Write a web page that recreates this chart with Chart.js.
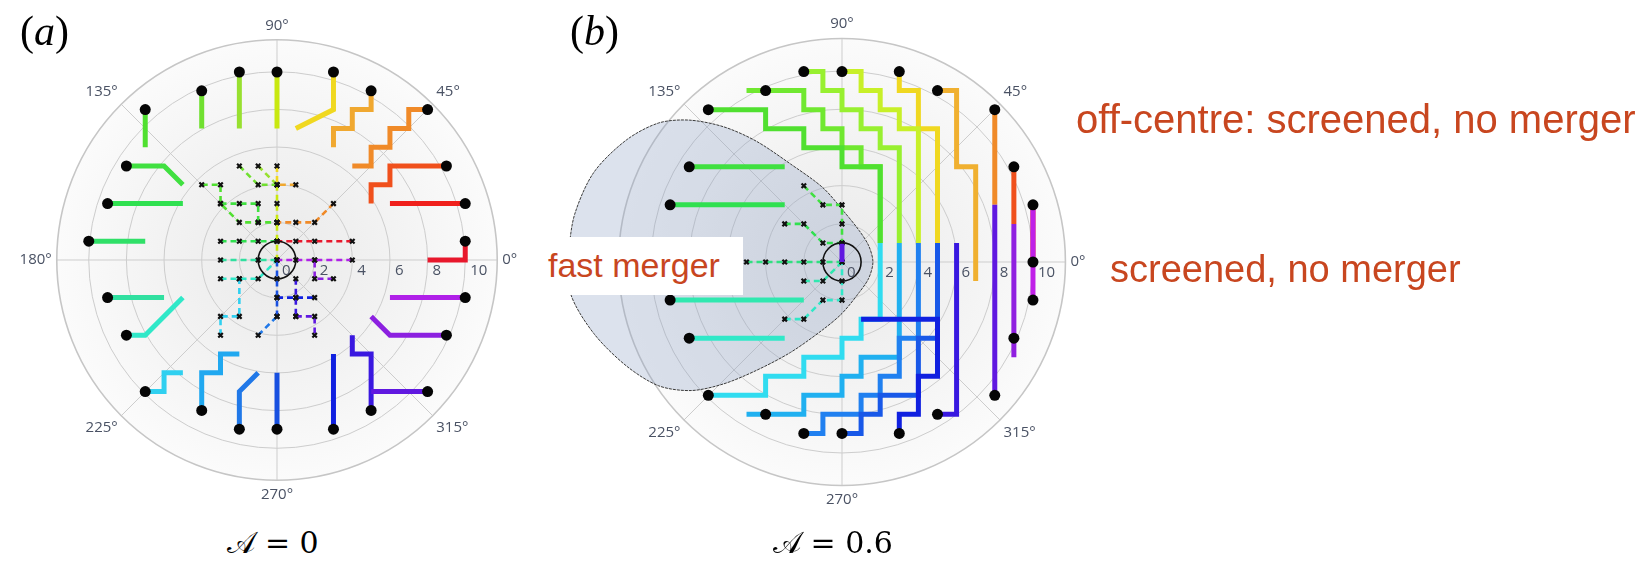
<!DOCTYPE html>
<html>
<head>
<meta charset="utf-8">
<script src="https://cdn.jsdelivr.net/npm/chart.js@4.4.1/dist/chart.umd.min.js"></script>
<style>
  body { margin: 0; background: #fff; width: 1642px; height: 561px; position: relative; overflow: hidden; }
  .pane { position: absolute; }
  .note { position: absolute; font-family: 'Liberation Sans', Arial, sans-serif; color: #c8461f; white-space: nowrap; }
  .tag { position: absolute; font-family: 'Liberation Serif', serif; font-size: 42px; line-height: 42px; }
  .cap { position: absolute; width: 240px; text-align: center; font-family: 'DejaVu Serif', 'Liberation Serif', serif; font-size: 30px; line-height: 30px; }
</style>
</head>
<body>
<div class="pane" style="left:-3px;top:-5px;width:560px;height:530px"><canvas id="chartA" width="560" height="530"></canvas></div>
<div class="pane" style="left:542px;top:-3px;width:600px;height:530px"><canvas id="chartB" width="600" height="530"></canvas></div>

<div class="tag" style="left:20px;top:10px">(<i>a</i>)</div>
<div class="tag" style="left:570px;top:10px">(<i>b</i>)</div>
<div class="cap" style="left:153px;top:528px">𝒜 = 0</div>
<div class="cap" style="left:713px;top:528px">𝒜 = 0.6</div>

<div style="position:absolute;left:540px;top:237px;width:203px;height:58px;background:#fff"></div>
<div class="note" style="left:548px;top:248px;font-size:34px;line-height:34px">fast merger</div>
<div class="note" style="left:1076px;top:99px;font-size:40px;line-height:40px">off-centre: screened, no merger</div>
<div class="note" style="left:1110px;top:250px;font-size:38px;line-height:38px">screened, no merger</div>

<script>
// polar frame
var gridRadii = [2, 4, 6, 8, 10];
var outerRadius = 11.7;
var radialTicks = [0, 2, 4, 6, 8, 10];
var angleTicks = ['0°', '45°', '90°', '135°', '180°', '225°', '270°', '315°'];

// (a) A = 0 : early (solid) and late (dashed) parts of each walk, start = first solid point
var aColours = ['#e8182c', '#f0201c', '#f0501c', '#f08a28', '#f0a830', '#f0d820', '#c8e810', '#98e030',
  '#70e030', '#50e030', '#40e040', '#30e050', '#30e068', '#30e0a0', '#30e8c8', '#30d0f0',
  '#20a8f0', '#2078e8', '#1850e0', '#1020e0', '#3a18e0', '#6018e0', '#8c20e0', '#b020e8'];
var aSolid = [
  [[10, 1], [10, 0], [8, 0]],
  [[10, 3], [6, 3]],
  [[9, 5], [6, 5], [6, 4], [5, 4], [5, 3]],
  [[8, 8], [7, 8], [7, 7], [6, 7], [6, 6], [5, 6], [5, 5], [4, 5]],
  [[5, 9], [5, 8], [4, 8], [4, 7], [3, 7], [3, 6]],
  [[3, 10], [3, 8], [1, 7]],
  [[0, 10], [0, 7]],
  [[-2, 10], [-2, 7]],
  [[-4, 9], [-4, 7]],
  [[-7, 8], [-7, 6]],
  [[-8, 5], [-6, 5], [-5, 4]],
  [[-9, 3], [-5, 3]],
  [[-10, 1], [-7, 1]],
  [[-9, -2], [-6, -2]],
  [[-8, -4], [-7, -4], [-5, -2]],
  [[-7, -7], [-6, -7], [-6, -6], [-5, -6]],
  [[-4, -8], [-4, -6], [-3, -6], [-3, -5], [-2, -5]],
  [[-2, -9], [-2, -7], [-1, -6]],
  [[0, -9], [0, -6]],
  [[3, -9], [3, -5]],
  [[5, -8], [5, -5], [4, -5], [4, -4]],
  [[8, -7], [5, -7]],
  [[9, -4], [6, -4], [5, -3]],
  [[10, -2], [6, -2]]
];
var aDashed = [
  [[4, 1], [2, 1], [1, 1], [0, 1]],
  [],
  [],
  [[3, 3], [2, 2], [1, 2], [0, 2]],
  [[1, 4], [0, 4]],
  [[0, 5], [0, 4]],
  [[0, 4], [0, 3], [0, 2], [0, 1], [0, 0]],
  [[-1, 5], [0, 4]],
  [[-2, 5], [-1, 4], [0, 4]],
  [[-4, 4], [-3, 4], [-3, 3], [-2, 2], [-1, 2], [0, 2]],
  [[-3, 3], [-2, 3], [-1, 3], [-1, 2]],
  [[-3, 1], [-2, 1], [-1, 1], [0, 1]],
  [],
  [[-3, 0], [-1, 0], [0, 0]],
  [[-3, -1], [-2, -1], [-1, -1], [0, 0]],
  [[-3, -4], [-3, -3], [-2, -3], [-2, -1]],
  [],
  [[-1, -4], [0, -3]],
  [[0, -3], [0, -2], [0, -1], [0, 0]],
  [[0, -2], [1, -2], [2, -2]],
  [[1, -1], [1, -2], [1, -3]],
  [[1, -3], [2, -3], [2, -4]],
  [[3, -1], [2, -1], [2, 0]],
  [[4, 0], [2, 0], [1, 0], [0, 0]]
];

// (b) A = 0.6
var bColours = ['#e8182c', '#f0201c', '#f0501c', '#f08a28', '#f0b030', '#f0d820', '#c8f028', '#98f030',
  '#70e830', '#50e030', '#40e040', '#30e050', '#30e080', '#30e8b0', '#30e8c8', '#30dcf0',
  '#20b0f0', '#2080f0', '#1858e8', '#1020e0', '#3818e0', '#6018e0', '#9020e0', '#c020e8'];
var bSolid = [
  [[10, 0], [10, 1]],
  [[10, 3], [10, 1]],
  [[9, 5], [9, 2]],
  [[8, 8], [8, 3]],
  [[5, 9], [6, 9], [6, 5], [7, 5], [7, -1]],
  [[3, 10], [3, 9], [4, 9], [4, 7], [5, 7], [5, 1]],
  [[0, 10], [1, 10], [1, 9], [2, 9], [2, 8], [3, 8], [3, 7], [4, 7], [4, 1]],
  [[-2, 10], [-1, 10], [-1, 9], [0, 9], [0, 8], [1, 8], [1, 7], [2, 7], [2, 6], [3, 6], [3, 1]],
  [[-4, 9], [-5, 9], [-2, 9], [-2, 8], [-1, 8], [-1, 7], [0, 7], [0, 6], [1, 6], [1, 5], [2, 5], [2, 1]],
  [[-7, 8], [-4, 8], [-4, 7], [-2, 7], [-2, 6], [0, 6], [0, 5], [2, 5], [2, 1]],
  [[-8, 5], [-3, 5]],
  [[-9, 3], [-3, 3]],
  [[-10, 0], [-6, 0]],
  [[-9, -2], [-2, -2]],
  [[-8, -4], [-3, -4]],
  [[-7, -7], [-4, -7], [-4, -6], [-2, -6], [-2, -5], [0, -5], [0, -4], [1, -4], [1, -3], [2, -3], [2, 1]],
  [[-4, -8], [-5, -8], [-2, -8], [-2, -7], [0, -7], [0, -6], [1, -6], [1, -5], [3, -5], [3, 1]],
  [[-2, -9], [-1, -9], [-1, -8], [1, -8], [1, -7], [2, -7], [2, -6], [3, -6], [3, -4], [4, -4], [4, 1]],
  [[0, -9], [1, -9], [1, -8], [2, -8], [2, -7], [4, -7], [4, -4], [5, -4], [5, 1]],
  [[3, -9], [3, -8], [4, -8], [4, -6], [5, -6], [5, -3], [1, -3]],
  [[5, -8], [6, -8], [6, 1]],
  [[8, -7], [8, 3]],
  [[9, -4], [9, -5], [9, 2]],
  [[10, -2], [10, 3]]
];
var bDashed = [
  [], [], [], [], [], [], [], [], [], [],
  [[-2, 4], [-1, 3], [0, 3], [0, 2], [0, 1], [0, 0]],
  [[-3, 2], [-2, 2], [-1, 1], [0, 1]],
  [[-5, 0], [-4, 0], [-3, 0], [-2, 0], [-1, 0], [0, 0]],
  [[-2, -1], [-1, -1], [0, 0]],
  [[-3, -3], [-2, -3], [-1, -2], [0, -2], [0, -1], [0, 0]],
  [], [], [], [], [], [], [], [], []
];
var bCentre = [[0, 1], [0, 0]];

// fast-merger region of (b), traced from the left end round the top
var eggX = [-14.35, -14.0, -13.0, -11.3, -9.6, -8.0, -6.2, -4.5, -2.7, -1.0, 0.1, 0.9, 1.4, 1.62,
  1.4, 0.9, 0, -1.0, -2.7, -4.5, -6.2, -7.9, -9.6, -11.3, -13.0, -14.2, -14.35];
var eggY = [0.4, 2.5, 4.7, 6.4, 7.3, 7.45, 7.1, 6.35, 5.15, 3.9, 2.65, 1.65, 0.85, 0,
  -0.85, -1.6, -2.7, -3.55, -4.75, -5.7, -6.4, -6.75, -6.5, -5.45, -3.75, -1.7, 0.4];

function toXY(path) {
  return path.map(function (p) { return {x: p[0], y: p[1]}; });
}

var polarFrame = {
  id: 'polarFrame',
  beforeDatasetsDraw: function (chart) {
    var ctx = chart.ctx, xs = chart.scales.x, ys = chart.scales.y;
    var cx = xs.getPixelForValue(0), cy = ys.getPixelForValue(0);
    var R = xs.getPixelForValue(outerRadius) - cx;
    ctx.save();
    var g = ctx.createRadialGradient(cx, cy, 0, cx, cy, R);
    g.addColorStop(0, '#eaeaea');
    g.addColorStop(0.5, '#f2f2f2');
    g.addColorStop(1, '#fbfbfb');
    ctx.fillStyle = g;
    ctx.beginPath(); ctx.arc(cx, cy, R, 0, 2 * Math.PI); ctx.fill();
    ctx.strokeStyle = '#cdcdcd';
    ctx.lineWidth = 1;
    gridRadii.forEach(function (r) {
      ctx.beginPath(); ctx.arc(cx, cy, xs.getPixelForValue(r) - cx, 0, 2 * Math.PI); ctx.stroke();
    });
    for (var k = 0; k < 8; k++) {
      var a = k * Math.PI / 4;
      ctx.beginPath(); ctx.moveTo(cx, cy); ctx.lineTo(cx + R * Math.cos(a), cy - R * Math.sin(a)); ctx.stroke();
    }
    ctx.strokeStyle = '#c6c6c6';
    ctx.lineWidth = 1.6;
    ctx.beginPath(); ctx.arc(cx, cy, R, 0, 2 * Math.PI); ctx.stroke();
    ctx.restore();
  },
  afterDatasetsDraw: function (chart) {
    var ctx = chart.ctx, xs = chart.scales.x, ys = chart.scales.y;
    var cx = xs.getPixelForValue(0), cy = ys.getPixelForValue(0);
    var R = xs.getPixelForValue(outerRadius) - cx;
    ctx.save();
    // merger radius
    ctx.strokeStyle = '#111';
    ctx.lineWidth = 1.6;
    ctx.beginPath(); ctx.arc(cx, cy, xs.getPixelForValue(1) - cx, 0, 2 * Math.PI); ctx.stroke();
    ctx.fillStyle = '#4a5264';
    ctx.font = '15px "Open Sans"';
    ctx.textAlign = 'left';
    ctx.textBaseline = 'middle';
    radialTicks.forEach(function (v) {
      ctx.fillText(String(v), xs.getPixelForValue(v) + 5, cy + 11);
    });
    angleTicks.forEach(function (t, k) {
      var a = k * Math.PI / 4, c = Math.cos(a), s = Math.sin(a);
      ctx.textAlign = c > 0.3 ? 'left' : (c < -0.3 ? 'right' : 'center');
      ctx.textBaseline = s > 0.3 ? 'bottom' : (s < -0.3 ? 'top' : 'middle');
      ctx.fillText(t, cx + (R + 5) * c, cy - (R + 7) * s);
    });
    ctx.restore();
  }
};

function polarChart(id, ppu, solids, dashes, colours, extra) {
  var canvas = document.getElementById(id);
  var w = canvas.width, h = canvas.height;
  var datasets = [];
  solids.forEach(function (path, i) {
    datasets.push({
      data: toXY(path), showLine: true, borderColor: colours[i], borderWidth: 5,
      borderJoinStyle: 'miter', pointRadius: 0, order: 150 - i
    });
  });
  dashes.forEach(function (path, i) {
    if (!path.length) return;
    datasets.push({
      data: toXY(path), showLine: true, borderColor: colours[i], borderWidth: 2.6, borderDash: [6, 4],
      pointStyle: 'crossRot', pointRadius: 3.2, pointBorderColor: '#111', pointBorderWidth: 2.2,
      order: 60 - i
    });
  });
  datasets.push({
    data: solids.map(function (p) { return {x: p[0][0], y: p[0][1]}; }),
    showLine: false, pointRadius: 5.5, pointBackgroundColor: '#050505', pointBorderWidth: 0, order: 0
  });
  (extra || []).forEach(function (d) { datasets.push(d); });

  return new Chart(canvas, {
    type: 'scatter',
    data: {datasets: datasets},
    options: {
      responsive: false,
      animation: false,
      events: [],
      layout: {padding: 0},
      scales: {
        x: {type: 'linear', min: -w / 2 / ppu, max: w / 2 / ppu, display: false},
        y: {type: 'linear', min: -h / 2 / ppu, max: h / 2 / ppu, display: false}
      },
      plugins: {legend: {display: false}, tooltip: {enabled: false}}
    },
    plugins: [polarFrame]
  });
}

polarChart('chartA', 19.25, aSolid, aDashed, aColours);

polarChart('chartB', 19.5, bSolid, bDashed, bColours, [
  {
    data: eggX.map(function (x, i) { return {x: x, y: eggY[i]}; }),
    showLine: true, tension: 0.3, fill: 'shape', backgroundColor: 'rgba(140,160,195,0.3)',
    borderColor: '#3a3a3a', borderWidth: 1, borderDash: [3, 1], pointRadius: 0, order: 300
  },
  {
    data: toXY(bCentre), showLine: true, borderColor: '#6018e0', borderWidth: 5, pointRadius: 0, order: 10
  }
]);
</script>
</body>
</html>
